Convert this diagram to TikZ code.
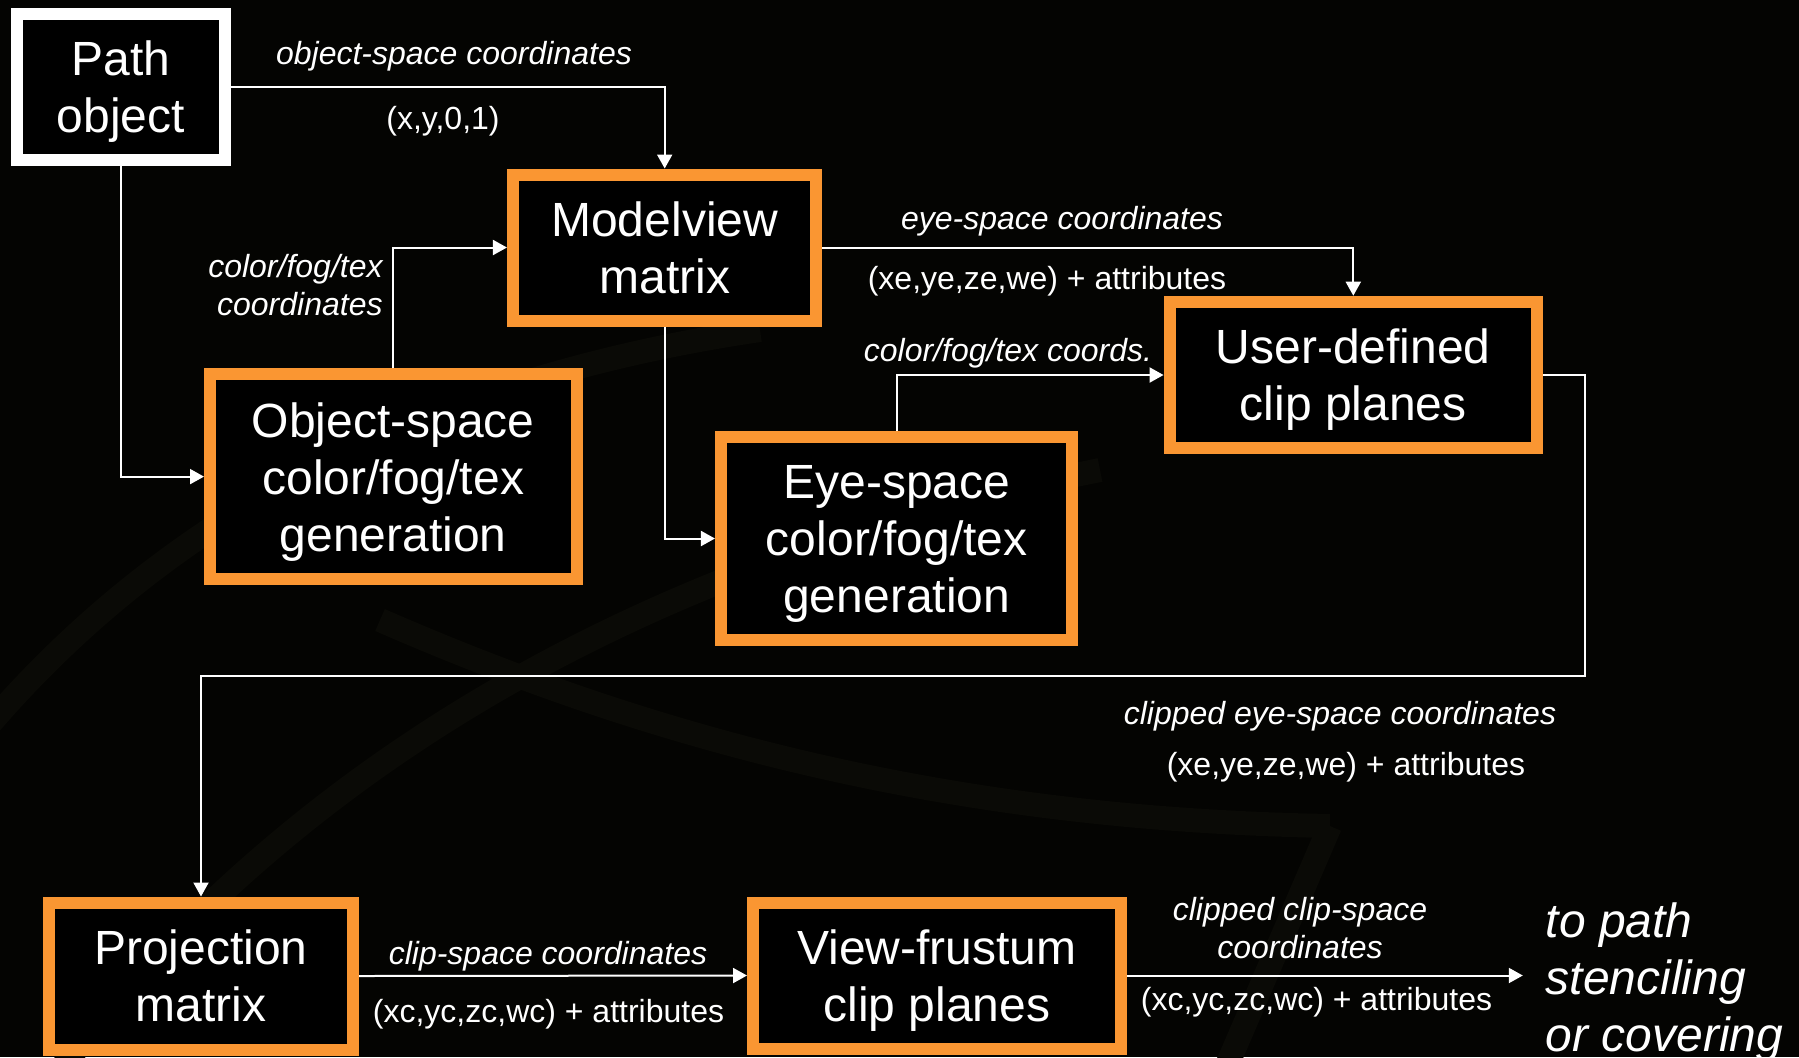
\documentclass[tikz,border=0pt]{standalone}
\usepackage{fontspec}
\setmainfont{Liberation Sans}
\usetikzlibrary{arrows.meta}
\definecolor{boxorange}{RGB}{250,150,50}
\definecolor{bgdark}{RGB}{4,4,2}
\definecolor{swoosh}{RGB}{10,10,6}
% last line of a box: keep its descenders out of the vertical centring
\newcommand\flatline[1]{\raisebox{0pt}[\height][0pt]{#1}}
\begin{document}
\begin{tikzpicture}[x=0.5pt,y=-0.5pt,
  stage/.style={draw=boxorange, line width=6pt, fill=black, text=white,
    inner sep=0pt, align=center, font=\fontsize{24}{28.5}\selectfont},
  source/.style={stage, draw=white},
  flow/.style={draw=white, line width=1pt, -{Triangle[length=7pt,width=7.5pt]}},
  lbl/.style={text=white, inner sep=0pt, font=\fontsize{16}{19}\selectfont\itshape},
  val/.style={text=white, inner sep=0pt, font=\fontsize{16}{19}\selectfont},
  outtext/.style={text=white, inner sep=0pt, align=left,
    font=\fontsize{24}{28.5}\selectfont\itshape},
]
% backdrop
\fill[bgdark] (0,0) rectangle (1799,1057);
\useasboundingbox (0,0) rectangle (1799,1057);
\begin{scope}[line width=12pt, draw=swoosh]
  \draw (-40,760) .. controls (150,520) and (420,380) .. (760,330);
  \draw (60,1070) .. controls (300,760) and (650,560) .. (1100,470);
  \draw (380,620) .. controls (700,760) and (1000,820) .. (1330,826);
  \draw (1330,826) -- (1225,1070);
\end{scope}

% pipeline stages
\node[source, minimum width=104pt, minimum height=73pt] (path) at (121,87) {Path\\\flatline{object}};
\node[stage, minimum width=151.75pt, minimum height=73pt] (model) at (664.7,247.5) {Modelview\\matrix};
\node[stage, minimum width=183.3pt, minimum height=102.2pt] (objgen) at (393.3,476.6) {Object-space\\color/fog/tex\\\flatline{generation}};
\node[stage, minimum width=175.75pt, minimum height=101.85pt] (eyegen) at (896.7,538.5) {Eye-space\\color/fog/tex\\\flatline{generation}};
\node[stage, minimum width=183.75pt, minimum height=73.3pt] (clip) at (1353.3,375) {User-defined\\\flatline{clip planes}};
\node[stage, minimum width=152pt, minimum height=73.5pt] (proj) at (201,976) {Projection\\matrix};
\node[stage, minimum width=184pt, minimum height=73pt] (view) at (937,975.5) {View-frustum\\\flatline{clip planes}};

% connectors
\coordinate (bend) at (1585.4,675.5);
\coordinate (outend) at (1522.8,975.5);
\draw[flow] (path.east) -| (model.north);
\draw[flow] (path.south) |- (objgen.west);
\draw[flow] (objgen.north) |- (model.west);
\draw[flow] (model.east) -| (clip.north);
\draw[flow] (model.south) |- (eyegen.west);
\draw[flow] (eyegen.north) |- (clip.west);
\draw[flow] (clip.east) -| (bend) -| (proj.north);
\draw[flow] (proj.east) -- (view.west);
\draw[flow] (view.east) -- (outend);

% connector labels
\node[lbl] (l1) at (454,56.5) {object-space coordinates};
\node[val] (v1) at (443,121.5) {(x,y,0,1)};
\node[lbl, anchor=east, align=right] (l2) at (383,285) {color/fog/tex\\coordinates};
\node[lbl] (l3) at (1062,221.5) {eye-space coordinates};
\node[val] (v3) at (1047,281.5) {(xe,ye,ze,we) + attributes};
\node[lbl] (l4) at (1008,353.5) {color/fog/tex coords.};
\node[lbl] (l5) at (1340,716) {clipped eye-space coordinates};
\node[val] (v5) at (1346,767.5) {(xe,ye,ze,we) + attributes};
\node[lbl] (l6) at (548,956.5) {clip-space coordinates};
\node[val] (v6) at (548.5,1014.5) {(xc,yc,zc,wc) + attributes};
\node[lbl, align=center] (l7) at (1300,928) {clipped clip-space\\coordinates};
\node[val] (v7) at (1316.5,1002.5) {(xc,yc,zc,wc) + attributes};
\node[outtext, anchor=west] (dest) at (1545.5,982) {to path\\stenciling\\or covering};
\end{tikzpicture}
\end{document}
